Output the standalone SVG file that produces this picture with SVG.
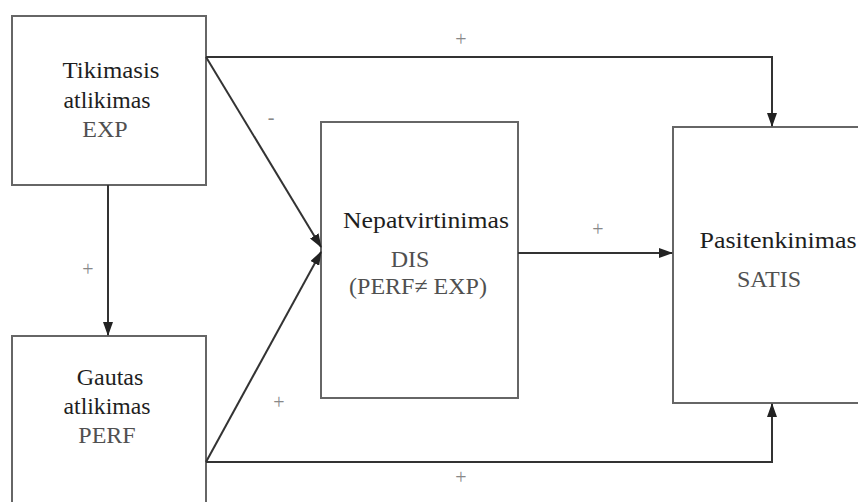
<svg xmlns="http://www.w3.org/2000/svg" width="858" height="502" viewBox="0 0 858 502">
<style>
.box{fill:#fff;stroke:#666;stroke-width:2}
.ln{fill:none;stroke:#333;stroke-width:2}
.t{font-size:24px;fill:#1e1e1e;text-anchor:middle}
.c{fill:#505050}
.s{font-size:20px;fill:#888;text-anchor:middle}
</style>
<defs>
<marker id="ah" markerWidth="14" markerHeight="10" refX="13" refY="5" orient="auto" markerUnits="userSpaceOnUse">
<path d="M0,0 L14,5 L0,10 Z" fill="#222"/>
</marker>
</defs>
<rect width="858" height="502" fill="#fff"/>
<g font-family="'Liberation Serif', 'DejaVu Serif', serif">
<g id="exp">
<rect class="box" x="12" y="16" width="194" height="169"/>
<text class="t" x="111" y="78" textLength="97" lengthAdjust="spacingAndGlyphs">Tikimasis</text>
<text class="t" x="107" y="108" textLength="87" lengthAdjust="spacingAndGlyphs">atlikimas</text>
<text class="t c" x="105" y="137">EXP</text>
</g>
<g id="perf">
<rect class="box" x="12" y="336" width="194" height="180"/>
<text class="t" x="110" y="385">Gautas</text>
<text class="t" x="107" y="414" textLength="87" lengthAdjust="spacingAndGlyphs">atlikimas</text>
<text class="t c" x="107" y="443">PERF</text>
</g>
<g id="dis">
<rect class="box" x="321" y="122" width="197" height="276"/>
<text class="t" x="426" y="228" textLength="166" lengthAdjust="spacingAndGlyphs">Nepatvirtinimas</text>
<text class="t c" x="410" y="267">DIS</text>
<text class="t c" x="418" y="294">(PERF≠ EXP)</text>
</g>
<g id="satis">
<rect class="box" x="673" y="127" width="200" height="276"/>
<text class="t" x="778" y="248" textLength="157" lengthAdjust="spacingAndGlyphs">Pasitenkinimas</text>
<text class="t c" x="769" y="287">SATIS</text>
</g>
<g id="connectors">
<polyline class="ln" points="206,57 772,57 772,126" marker-end="url(#ah)"/>
<line class="ln" x1="108" y1="185" x2="108" y2="335" marker-end="url(#ah)"/>
<line class="ln" x1="206" y1="57" x2="321" y2="247" marker-end="url(#ah)"/>
<line class="ln" x1="206" y1="462" x2="321" y2="252" marker-end="url(#ah)"/>
<line class="ln" x1="518" y1="253" x2="672" y2="253" marker-end="url(#ah)"/>
<polyline class="ln" points="206,462 772,462 772,404" marker-end="url(#ah)"/>
</g>
<g id="labels">
<text class="s" x="461" y="46">+</text>
<text class="s" x="271" y="124">-</text>
<text class="s" x="88" y="276">+</text>
<text class="s" x="279" y="409">+</text>
<text class="s" x="598" y="236">+</text>
<text class="s" x="461" y="484">+</text>
</g>
</g>
</svg>
